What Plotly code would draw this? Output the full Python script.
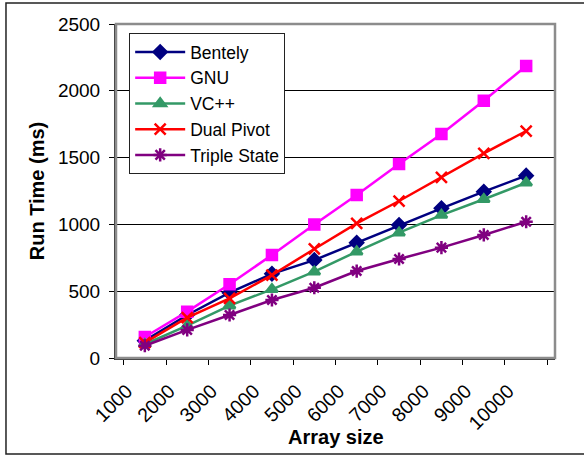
import plotly.graph_objects as go

array_sizes = ["1000", "2000", "3000", "4000", "5000", "6000", "7000", "8000", "9000", "10000"]
bentely = [130, 322, 489, 630, 733, 863, 995, 1120, 1245, 1365]
gnu = [157, 347, 552, 771, 1000, 1220, 1452, 1677, 1926, 2186]
vcpp = [103, 242, 392, 514, 646, 796, 938, 1070, 1188, 1312]
dual_pivot = [115, 302, 447, 620, 816, 1008, 1175, 1352, 1532, 1699]
triple_state = [92, 210, 322, 434, 526, 651, 741, 826, 921, 1020]

series = [
    ("Bentely", bentely, "#000080", "diamond", 10),
    ("GNU", gnu, "#FF00FF", "square", 10),
    ("VC++", vcpp, "#339966", "triangle-up", 10),
    ("Dual Pivot", dual_pivot, "#FF0000", "x-thin-open", 11),
    ("Triple State", triple_state, "#800080", "asterisk-open", 11),
]

fig = go.Figure()
for name, vals, color, sym, size in series:
    fig.add_trace(go.Scatter(
        x=array_sizes, y=vals, name=name, mode="lines+markers",
        line=dict(color=color, width=2.5),
        marker=dict(symbol=sym, size=size, color=color,
                    line=dict(color=color, width=2.5)),
    ))

font_family = "Liberation Sans, Arial, sans-serif"

fig.update_layout(
    width=584, height=457,
    margin=dict(l=116, r=29, t=24, b=99),
    paper_bgcolor="white", plot_bgcolor="white",
    font=dict(family=font_family, color="black", size=19),
    showlegend=True,
    legend=dict(
        x=0.03, y=0.973, xanchor="left", yanchor="top",
        bgcolor="white", bordercolor="#222", borderwidth=1,
        font=dict(size=17.5, family=font_family),
        itemwidth=50, tracegroupgap=0,
    ),
    xaxis=dict(
        type="category", tickangle=-45, ticks="outside", tickson="boundaries",
        ticklen=5, tickcolor="black", showgrid=False, automargin=False,
        showline=True, linecolor="#333", linewidth=2,
        tickfont=dict(size=19.5), ticklabelstandoff=12, ticklabelshift=-18,
    ),
    yaxis=dict(
        range=[0, 2500], dtick=500, ticks="outside", ticklen=5, tickcolor="black",
        showgrid=True, gridcolor="black", gridwidth=1, automargin=False,
        showline=True, linecolor="#333", linewidth=2,
        zeroline=False, tickfont=dict(size=19), ticklabelstandoff=5,
        title=dict(text="<b>Run Time (ms)</b>", font=dict(size=20), standoff=8),
    ),
    annotations=[
        dict(text="<b>Array size</b>", xref="paper", yref="paper", x=0.501, y=-0.2365,
             xanchor="center", yanchor="middle", showarrow=False, font=dict(size=20)),
    ],
    shapes=[
        dict(type="rect", xref="paper", yref="paper", x0=0, x1=1, y0=0, y1=1,
             line=dict(color="#8c8c8c", width=2.5), layer="above"),
        dict(type="rect", xref="paper", yref="paper", x0=-0.2506, x1=1.2, y0=-0.2874, y1=1.0629,
             line=dict(color="#222", width=1.5), layer="above"),
    ],
)

fig.write_html("out.html", config={"displayModeBar": False},
               post_script="document.body.style.margin='0';")
